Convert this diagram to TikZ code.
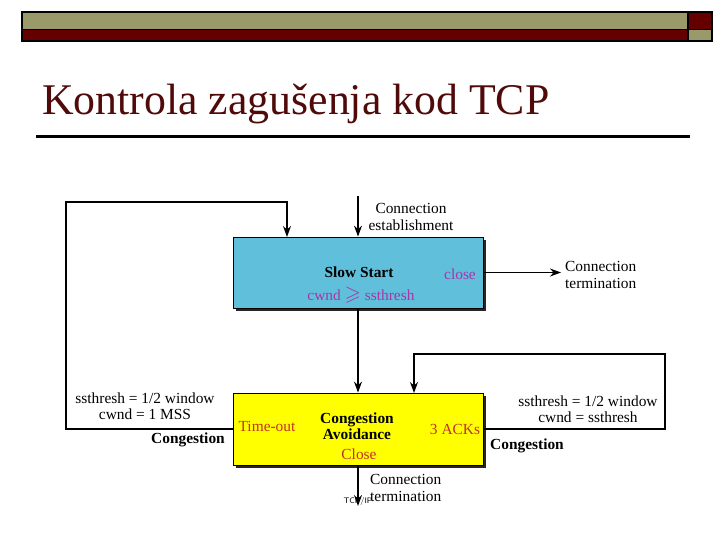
\documentclass[tikz,border=0pt]{standalone}
\usepackage{amssymb}
\usepackage{fontspec}
\setmainfont{Liberation Serif}
\usetikzlibrary{arrows.meta,shadows}
\definecolor{hdrolive}{RGB}{154,153,106}
\definecolor{hdrred}{RGB}{100,0,0}
\definecolor{titlecol}{RGB}{80,10,10}
\definecolor{ssblue}{RGB}{96,192,220}
\definecolor{cayellow}{RGB}{255,255,0}
\definecolor{ssmag}{RGB}{170,50,170}
\definecolor{cared}{RGB}{195,50,40}
\tikzset{
  statebox/.style={draw=black, line width=0.8pt, minimum width=250pt, minimum height=71pt,
    drop shadow={shadow xshift=3pt, shadow yshift=-3pt, fill=black!85, opacity=1}},
  txt/.style={font=\fontsize{15.4}{16.5}\selectfont, inner sep=0pt, align=center},
  btxt/.style={txt, font=\fontsize{15.4}{16.5}\selectfont\bfseries},
  conn/.style={line width=1.3pt, -{Stealth[length=11pt,width=8pt]}},
  plain/.style={line width=1.3pt}
}
\begin{document}
\begin{tikzpicture}[x=1pt,y=-1pt]
\useasboundingbox (0,0) rectangle (720,540);
% header
\fill[hdrolive] (22,12) rectangle (688,29.5);
\fill[hdrred] (22,29.5) rectangle (688,41);
\fill[hdrred] (688,12) rectangle (712,29.5);
\fill[hdrolive] (688,29.5) rectangle (712,41);
\draw[line width=1.5pt] (22,12) rectangle (712,41);
\draw[line width=1.5pt] (22,29.5) -- (712,29.5);
\draw[line width=1.5pt] (688,12) -- (688,41);
% title
\node[anchor=base west, inner sep=0pt, text=titlecol, font=\fontsize{43.8}{46}\selectfont] (title) at (42,115) {Kontrola zagušenja kod TCP};
\draw[line width=2.5pt] (36,136.5) -- (690,136.5);
% boxes
\node[statebox, fill=ssblue] (ss) at (358,272.5) {};
\node[statebox, fill=cayellow, minimum height=72pt] (ca) at (358,429) {};
% texts in boxes
\node[btxt] (sslabel) at (359,272) {Slow Start};
\node[txt, text=ssmag] (ssclose) at (460,274) {close};
\node[txt, text=ssmag] (sscond) at (361,295) {cwnd {\fontsize{21}{21}\selectfont$\geqslant$} ssthresh};
\node[btxt] (calabel) at (357,426) {Congestion\\Avoidance};
\node[txt, text=cared] (timeout) at (267,426) {Time-out};
\node[txt, text=cared] (acks) at (455,429) {3 ACKs};
\node[txt, text=cared] (caclose) at (359,454) {Close};
% outside labels
\node[txt] (estlab) at (411,217) {Connection\\establishment};
\node[txt, anchor=west, align=left] (term1lab) at (565,275) {Connection\\termination};
\node[txt, anchor=west, align=left] (term2lab) at (370,488) {Connection\\termination};
\node[txt] (leftlab) at (145,406) {ssthresh = 1/2 window\\cwnd = 1 MSS};
\node[btxt] (leftcong) at (188,440) {Congestion};
\node[txt] (rightlab) at (588,409) {ssthresh = 1/2 window\\cwnd = ssthresh};
\node[btxt] (rightcong) at (527,446) {Congestion};
\node[inner sep=0pt, font=\sffamily\fontsize{8}{8}\selectfont] (tcpip) at (358,501) {TCP/IP};
% coordinates
\coordinate (esttop) at (358,196);
\coordinate (term1) at (561,272.5);
\coordinate (term2) at (358,506);
\coordinate (lcorner) at (66,202);
\coordinate (ssin) at (287,237);
\coordinate (rcorner) at (665,354);
\coordinate (cain) at (414,393);
% connectors
\draw[conn] (esttop) -- (ss.north);
\draw[conn] (ss.east) -- (term1);
\draw[conn] (ss.south) -- (ca.north);
\draw[conn] (ca.south) -- (term2);
\draw[conn] (ca.west) -| (lcorner) -| (ssin);
\draw[conn] (ca.east) -| (rcorner) -| (cain);
\end{tikzpicture}
\end{document}
